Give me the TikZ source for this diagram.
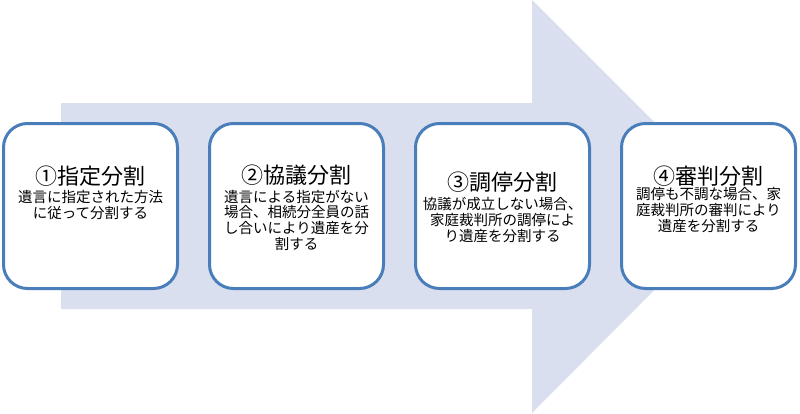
\documentclass[tikz,border=0pt]{standalone}
\usepackage{fontspec}
\newfontfamily\jpfont{Noto Sans CJK JP}
\usetikzlibrary{positioning}
\definecolor{ArrowFill}{HTML}{D9DFEF}
\definecolor{BoxLine}{HTML}{4A7EBB}

\begin{document}
\begin{tikzpicture}[x=1pt, y=-1pt,
    stage/.style={draw=BoxLine, line width=3pt, fill=white,
                  rounded corners=24pt, minimum width=174pt,
                  minimum height=165pt, inner sep=0pt},
    ttl/.style={anchor=base, inner sep=0pt,
                font=\jpfont\fontsize{22}{26}\selectfont},
    desc/.style={anchor=base, inner sep=0pt, align=center,
                 font=\jpfont\fontsize{14.5}{15.8}\selectfont}]
  \useasboundingbox (0,0) rectangle (800,413);
  % Arrow
  \fill[ArrowFill] (61,103) -- (532,103) -- (532,0) -- (738,206)
    -- (532,413) -- (532,309) -- (61,309) -- cycle;
  % Stages
  \node[stage] (s1) at (90.5,206) {};
  \node[stage, right=29pt of s1] (s2) {};
  \node[stage, right=29pt of s2] (s3) {};
  \node[stage, right=29pt of s3] (s4) {};
  % Titles
  \node[ttl] (t1) at ([yshift=-62.4pt]s1.north) {①指定分割};
  \node[ttl] (t2) at ([yshift=-61pt]s2.north)   {②協議分割};
  \node[ttl] (t3) at ([yshift=-68.4pt]s3.north) {③調停分割};
  \node[ttl] (t4) at ([yshift=-62.4pt]s4.north) {④審判分割};
  % Descriptions (base = last line)
  \node[desc] (d1) at ([yshift=-33.8pt]t1.base)
    {遺言に指定された方法\\に従って分割する};
  \node[desc] (d2) at ([yshift=-66.4pt]t2.base)
    {遺言による指定がない\\場合、相続分全員の話\\し合いにより遺産を分\\割する};
  \node[desc] (d3) at ([yshift=-50.6pt]t3.base)
    {協議が成立しない場合、\\家庭裁判所の調停によ\\り遺産を分割する};
  \node[desc] (d4) at ([yshift=-46.6pt]t4.base)
    {調停も不調な場合、家\\庭裁判所の審判により\\遺産を分割する};
\end{tikzpicture}
\end{document}
